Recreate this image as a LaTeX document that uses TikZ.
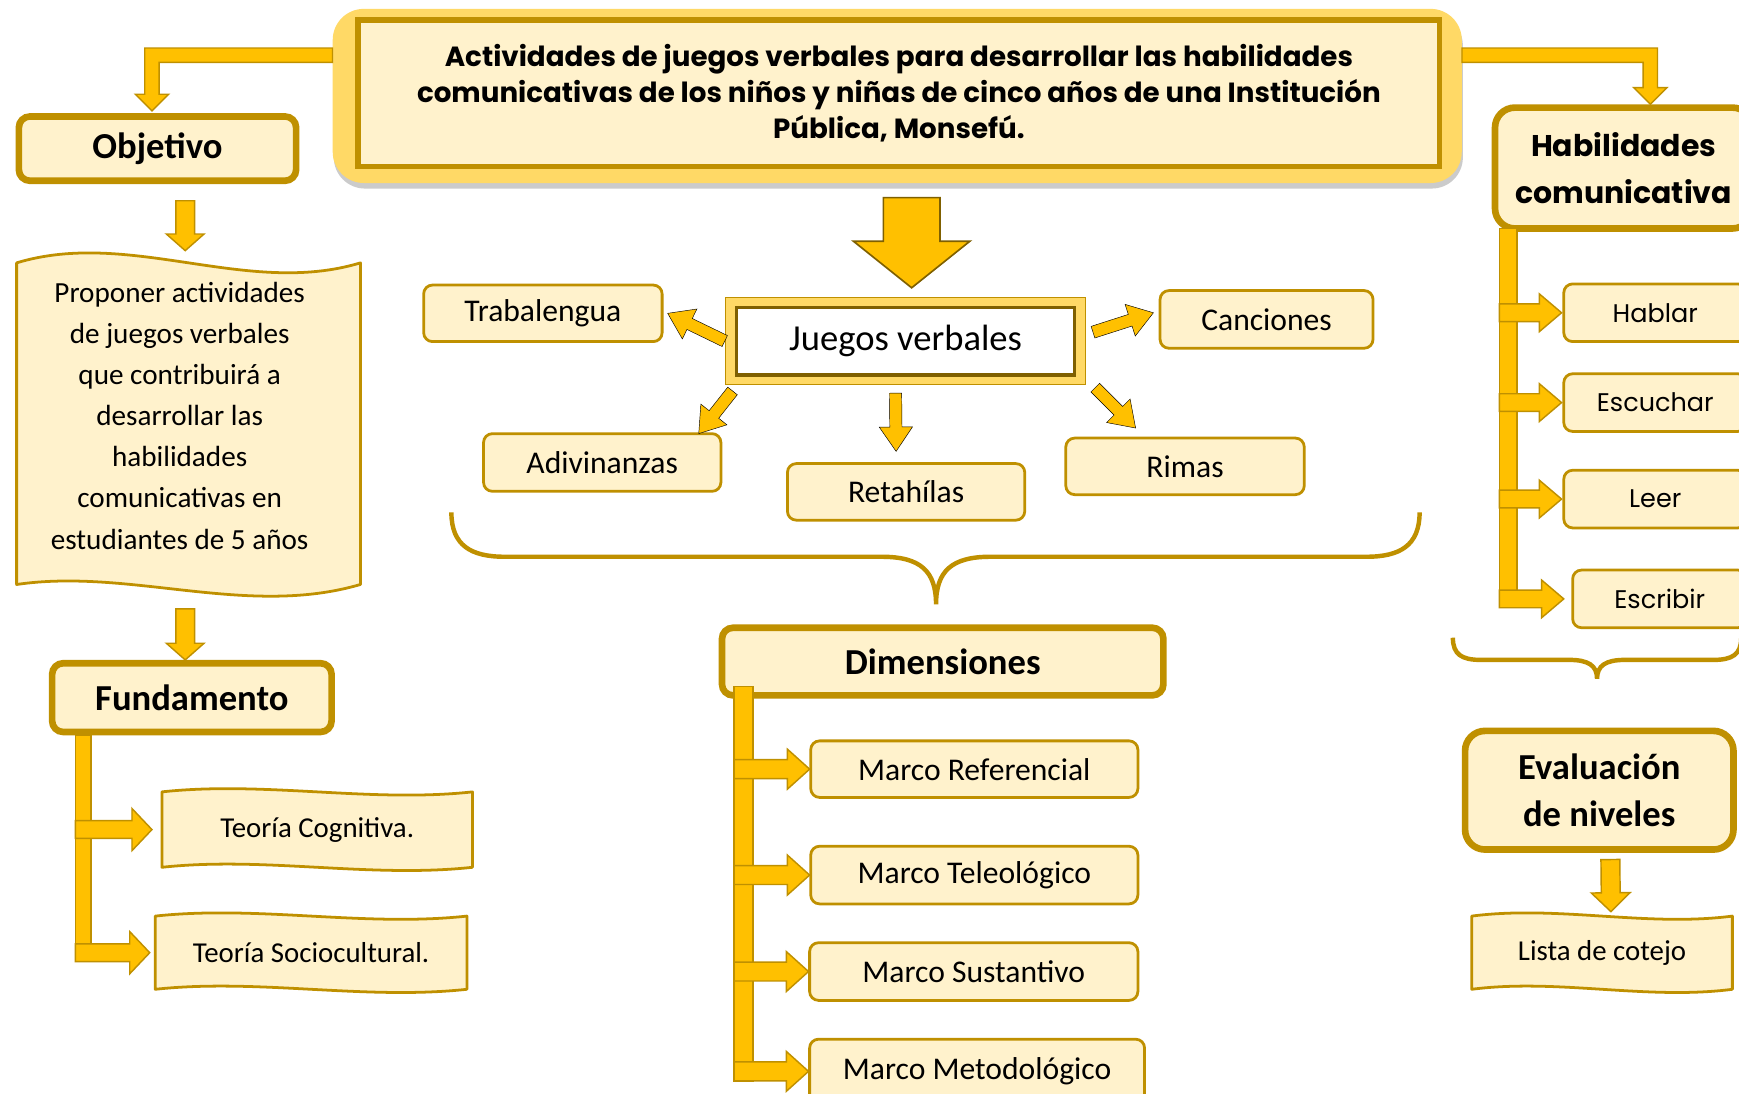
\documentclass[tikz,border=0pt]{standalone}
\usepackage{fontspec}
\setmainfont{Carlito}
\newfontfamily\gothic{Poppins}
\usetikzlibrary{calc,shadows,backgrounds}
\definecolor{gold}{HTML}{FFC000}
\definecolor{dkgold}{HTML}{BF9000}
\definecolor{paleyellow}{HTML}{FFF2CC}
\definecolor{lightgold}{HTML}{FFD966}
\definecolor{olive}{HTML}{7F6000}
\tikzset{
  headbox/.style={rounded corners=10pt, draw=dkgold, line width=6pt, fill=paleyellow,
    inner sep=0pt, outer sep=0pt, align=center, font=\bfseries\fontsize{33}{42}\selectfont},
  leafbox/.style={rounded corners=8pt, draw=dkgold, line width=2.5pt, fill=paleyellow,
    inner sep=0pt, outer sep=0pt, font=\fontsize{28.5}{32}\selectfont},
  gothicleaf/.style={leafbox, font=\gothic\fontsize{23}{28}\selectfont},
  wavybox/.style={inner sep=0pt, outer sep=0pt, align=center, font=\fontsize{26}{30}\selectfont},
  waveline/.style={draw=dkgold, line width=2.5pt, fill=paleyellow, line join=round},
  wave/.style 2 args={to path={.. controls ($(\tikztostart)!0.33!(\tikztotarget)+(0,#1)$)
    and ($(\tikztostart)!0.67!(\tikztotarget)+(0,#2)$) .. (\tikztotarget)}},
  blockline/.style={draw=dkgold, fill=gold, line width=1.3pt, line join=miter},
  blkarrow/.style n args={3}{to path={let \p1=(\tikztostart), \p2=(\tikztotarget),
    \n1={atan2(\y2-\y1,\x2-\x1)}, \n2={veclen(\x2-\x1,\y2-\y1)} in
    [shift={(\p1)}, rotate=\n1] (0pt,-#1pt) -- (\n2-#3pt,-#1pt) -- (\n2-#3pt,-#2pt)
    -- (\n2,0pt) -- (\n2-#3pt,#2pt) -- (\n2-#3pt,#1pt) -- (0pt,#1pt) -- cycle}},
  bracket/.style={draw=dkgold, line width=4pt},
}
\begin{document}
\begin{tikzpicture}[x=1pt, y=-1pt]
\begin{scope}[on background layer]
\fill[white] (0,0) rectangle (1568,986);
\end{scope}
\useasboundingbox (0,0) rectangle (1568,986);

% title
\node[rounded corners=28pt, fill=lightgold, minimum width=1018pt, minimum height=157pt,
  drop shadow={shadow xshift=1pt, shadow yshift=-5pt, fill=black!45, opacity=.45}] (title) at (809,86.5) {};
\node[draw=dkgold, line width=5pt, fill=paleyellow, minimum width=975pt, minimum height=132pt,
  align=center, font=\gothic\bfseries\fontsize{25}{32.5}\selectfont] (titlein) at (810.5,84)
  {Actividades de juegos verbales para desarrollar las habilidades\\
   comunicativas de los niños y niñas de cinco años de una Institución\\
   Pública, Monsefú.};

% left column
\node[headbox, minimum width=250pt, minimum height=58pt] (obj) at (142,134) {Objetivo};
\node[wavybox, minimum width=310pt, minimum height=290pt, font=\fontsize{26.3}{37}\selectfont] (prop) at (162,375)
  {Proponer actividades\\de juegos verbales\\que contribuirá a\\desarrollar las\\habilidades\\comunicativas en\\estudiantes de 5 años};
\node[headbox, minimum width=252pt, minimum height=62pt] (fund) at (173,629) {Fundamento};
\node[wavybox, minimum width=280pt, minimum height=68pt] (tcog) at (286,748) {Teoría Cognitiva.};
\node[wavybox, minimum width=281pt, minimum height=66pt] (tsoc) at (280.5,859) {Teoría Sociocultural.};

% centre
\node[draw=dkgold, line width=1pt, fill=lightgold, minimum width=325pt, minimum height=79pt] (jv) at (816.5,307.5) {};
\node[draw=olive, line width=3pt, fill=white, minimum width=305pt, minimum height=61pt,
  font=\fontsize{33}{36}\selectfont] (jvin) at (816.5,307.5) {Juegos verbales};
\node[leafbox, minimum width=215pt, minimum height=51pt] (tra) at (489.5,282.5) {Trabalengua};
\node[leafbox, minimum width=192pt, minimum height=52pt] (can) at (1142,288) {Canciones};
\node[leafbox, minimum width=214pt, minimum height=52pt] (adi) at (543,417) {Adivinanzas};
\node[leafbox, minimum width=214pt, minimum height=51pt] (ret) at (817,443.5) {Retahílas};
\node[leafbox, minimum width=215pt, minimum height=51pt] (rim) at (1068.5,420.5) {Rimas};
\node[headbox, minimum width=398pt, minimum height=61pt] (dim) at (850,596.5) {Dimensiones};
\node[leafbox, minimum width=295pt, minimum height=51pt] (mref) at (878.5,693.5) {Marco Referencial};
\node[leafbox, minimum width=295pt, minimum height=52pt] (mtel) at (878.5,789) {Marco Teleológico};
\node[leafbox, minimum width=296pt, minimum height=52pt] (msus) at (878,876) {Marco Sustantivo};
\node[leafbox, minimum width=302pt, minimum height=58pt] (mmet) at (881,966) {Marco Metodológico};

% right column
\node[headbox, rounded corners=18pt, minimum width=232pt, minimum height=109pt,
  font=\gothic\bfseries\fontsize{27}{42}\selectfont] (habil) at (1464,151.5) {Habilidades\\comunicativa};
\node[gothicleaf, minimum width=165pt, minimum height=52pt] (hab) at (1492.5,282) {Hablar};
\node[gothicleaf, minimum width=165pt, minimum height=52pt] (esc) at (1492.5,363) {Escuchar};
\node[gothicleaf, minimum width=165pt, minimum height=52pt] (lee) at (1492.5,450) {Leer};
\node[gothicleaf, minimum width=157pt, minimum height=52pt] (esb) at (1496.5,540) {Escribir};
\node[headbox, rounded corners=18pt, minimum width=242pt, minimum height=107pt] (eval) at (1442,712.5) {Evaluación\\de niveles};
\node[wavybox, minimum width=235pt, minimum height=66pt] (lista) at (1444.5,859) {Lista de cotejo};

% wavy outlines
\begin{scope}[on background layer]
\draw[waveline] ([shift={(8pt,-7pt)}]prop.north west) to[wave={-31}{31}] ([shift={(8pt,-7pt)}]prop.north east)
  -- ([shift={(8pt,-7pt)}]prop.south east) to[wave={30}{-15}] ([shift={(8pt,-7pt)}]prop.south west) -- cycle;
\draw[waveline] (tcog.north west) to[wave={-10}{10}] (tcog.north east) -- (tcog.south east)
  to[wave={10}{-10}] (tcog.south west) -- cycle;
\draw[waveline] (tsoc.north west) to[wave={-10}{10}] (tsoc.north east) -- (tsoc.south east)
  to[wave={10}{-10}] (tsoc.south west) -- cycle;
\draw[waveline] (lista.north west) to[wave={-10}{10}] (lista.north east) -- (lista.south east)
  to[wave={10}{-10}] (lista.south west) -- cycle;
\end{scope}

% elbow arrows from the title
\draw[blockline] let \p1=([yshift=-42pt]title.north west), \p2=([shift={(-5pt,5pt)}]obj.north) in
  (\x1,\y1+6.5pt) -- (\x2-6.5pt,\y1+6.5pt) -- (\x2-6.5pt,\y2+15pt) -- (\x2-15pt,\y2+15pt) -- (\p2)
  -- (\x2+15pt,\y2+15pt) -- (\x2+6.5pt,\y2+15pt) -- (\x2+6.5pt,\y1-6.5pt) -- (\x1,\y1-6.5pt) -- cycle;
\draw[blockline] let \p1=([yshift=-42pt]title.north east), \p2=([shift={(140pt,3pt)}]habil.north west) in
  (\x1,\y1+6.5pt) -- (\x2+6.5pt,\y1+6.5pt) -- (\x2+6.5pt,\y2+15pt) -- (\x2+15pt,\y2+15pt) -- (\p2)
  -- (\x2-15pt,\y2+15pt) -- (\x2-6.5pt,\y2+15pt) -- (\x2-6.5pt,\y1-6.5pt) -- (\x1,\y1-6.5pt) -- cycle;

% straight arrows
\draw[blockline, blkarrow={8.5}{17}{15}] ($(obj.south)+(25,18)$) to ($(prop.north)+(5,-4)$);
\draw[blockline, blkarrow={8.5}{17}{15}] ($(prop.south)+(5,29)$) to ($(fund.north)+(-6,-3)$);
\draw[blockline, blkarrow={8.5}{17.5}{17}] ($(eval.south)+(10,9)$) to ($(lista.north)+(8,-4)$);
\draw[draw=olive, fill=gold, line width=1.5pt, blkarrow={25.5}{52.5}{42}] ($(title.south)+(13,13)$) to ($(jv.north)+(5.5,-8)$);

% arrows round the word games
\draw[fill=gold, blkarrow={5.5}{15}{22}] (jv.west) to ([xshift=5pt]tra.east);
\draw[fill=gold, blkarrow={5.5}{15}{22}] ([shift={(6pt,8pt)}]jv.east) to ([shift={(-6pt,6pt)}]can.west);
\draw[fill=gold, blkarrow={5.5}{15}{22}] ([shift={(7pt,-5pt)}]jv.south west) to ([xshift=-20pt]adi.north east);
\draw[fill=gold, blkarrow={5.5}{15}{22}] ([shift={(-9pt,-7pt)}]jv.south) to ([shift={(-9pt,11pt)}]ret.north);
\draw[fill=gold, blkarrow={5.5}{15}{22}] ([shift={(8pt,-2pt)}]jv.south east) to ([shift={(63pt,9pt)}]rim.north west);

% braces
\draw[bracket] (407,462) .. controls (407,492) and (425,502) .. (455,502) -- (795,502)
  .. controls (830,502) and (844,515) .. (844,545) .. controls (844,515) and (858,502) .. (893,502)
  -- (1232,502) .. controls (1262,502) and (1280,492) .. (1280,462);
\draw[bracket] (1310,575) .. controls (1310,590) and (1318,595) .. (1335,595) -- (1415,595)
  .. controls (1432,595) and (1440,600) .. (1440,612) .. controls (1440,600) and (1448,595) .. (1465,595)
  -- (1545,595) .. controls (1562,595) and (1570,590) .. (1570,575);

% branch bars
\coordinate (fbar) at ($(fund.south west)+(21,3)$);
\draw[blockline] (fbar) rectangle ($(tsoc.west -| fbar)+(14,8)$);
\draw[blockline, blkarrow={8}{19}{18}] (tcog.west -| fbar) to ([xshift=-9pt]tcog.west);
\draw[blockline, blkarrow={8}{19}{18}] (tsoc.west -| fbar) to ([xshift=-5pt]tsoc.west);

\coordinate (dbar) at ($(dim.south west)+(11,-8)$);
\draw[blockline] (dbar) rectangle ($(mmet.west -| dbar)+(17,8.5)$);
\foreach \m in {mref,mtel,msus,mmet}
  \draw[blockline, blkarrow={8.5}{18}{20}] (\m.west -| dbar) to ([xshift=-1pt]\m.west);

\coordinate (hbar) at ($(habil.south west)+(4,0)$);
\draw[blockline] (hbar) rectangle ($(esb.west -| hbar)+(16,8)$);
\foreach \h in {hab,esc,lee}
  \draw[blockline, blkarrow={8}{17}{20}] (\h.west -| hbar) to ([xshift=-2pt]\h.west);
\draw[blockline, blkarrow={8}{17}{20}] (esb.west -| hbar) to ([xshift=-8pt]esb.west);
\end{tikzpicture}
\end{document}
